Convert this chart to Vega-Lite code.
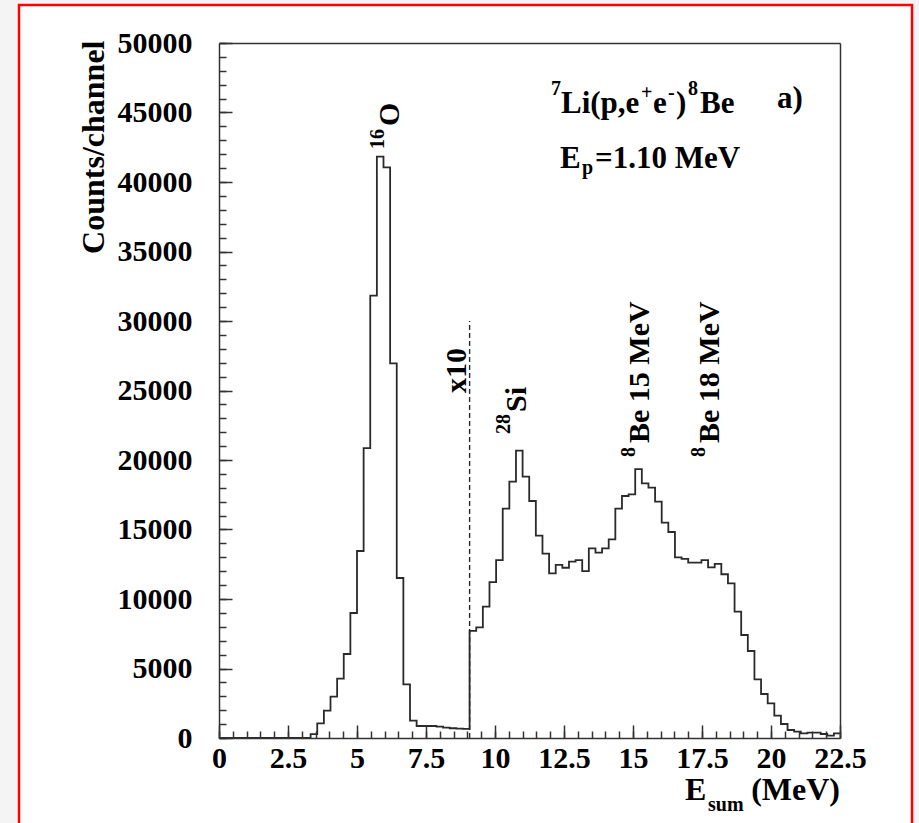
{
  "$schema": "https://vega.github.io/schema/vega-lite/v6.json",
  "width": 621,
  "height": 695,
  "autosize": {"type": "none"},
  "padding": {"left": 219, "top": 43, "right": 79, "bottom": 85},
  "background": "#f4f4f4",
  "config": {"view": {"stroke": null}, "axis": {"grid": false}},
  "datasets": {
    "frame": [{"x": -7.246, "x2": 25.109, "y": 52733, "y2": -6619}],
    "marker": [{"x": 9.08, "y": 0, "y2": 30000}],
    "hist": [
      {"E": 0, "c": 0}, {"E": 0.2, "c": 0}, {"E": 0.44, "c": 0}, {"E": 0.68, "c": 0}, {"E": 0.92, "c": 0},
      {"E": 1.16, "c": 0}, {"E": 1.4, "c": 0}, {"E": 1.64, "c": 0}, {"E": 1.88, "c": 0}, {"E": 2.12, "c": 0},
      {"E": 2.36, "c": 0}, {"E": 2.6, "c": 0}, {"E": 2.84, "c": 0}, {"E": 3.08, "c": 0},
      {"E": 3.32, "c": 280}, {"E": 3.56, "c": 1055}, {"E": 3.8, "c": 1967}, {"E": 4.04, "c": 2973},
      {"E": 4.28, "c": 4268}, {"E": 4.52, "c": 6043}, {"E": 4.76, "c": 8993}, {"E": 5.0, "c": 13453},
      {"E": 5.24, "c": 20860}, {"E": 5.48, "c": 31820}, {"E": 5.72, "c": 41820}, {"E": 5.96, "c": 41050},
      {"E": 6.2, "c": 26950}, {"E": 6.44, "c": 11510}, {"E": 6.68, "c": 3860}, {"E": 6.92, "c": 1247},
      {"E": 7.16, "c": 863}, {"E": 7.4, "c": 863}, {"E": 7.64, "c": 863}, {"E": 7.88, "c": 815},
      {"E": 8.12, "c": 743}, {"E": 8.36, "c": 700}, {"E": 8.6, "c": 671}, {"E": 8.84, "c": 660},
      {"E": 9.08, "c": 7700}, {"E": 9.32, "c": 7960}, {"E": 9.56, "c": 9450}, {"E": 9.8, "c": 11220},
      {"E": 10.04, "c": 12800}, {"E": 10.28, "c": 16500}, {"E": 10.52, "c": 18440}, {"E": 10.76, "c": 20670},
      {"E": 11.0, "c": 18800}, {"E": 11.24, "c": 17050}, {"E": 11.48, "c": 14560}, {"E": 11.72, "c": 13260},
      {"E": 11.96, "c": 11850}, {"E": 12.2, "c": 12450}, {"E": 12.44, "c": 12250}, {"E": 12.68, "c": 12690},
      {"E": 12.92, "c": 12800}, {"E": 13.16, "c": 12010}, {"E": 13.4, "c": 13640}, {"E": 13.64, "c": 13330},
      {"E": 13.88, "c": 13640}, {"E": 14.12, "c": 14290}, {"E": 14.36, "c": 16500}, {"E": 14.6, "c": 17410},
      {"E": 14.84, "c": 17530}, {"E": 15.08, "c": 19350}, {"E": 15.32, "c": 18320}, {"E": 15.56, "c": 18010},
      {"E": 15.8, "c": 17000}, {"E": 16.04, "c": 15490}, {"E": 16.28, "c": 14820}, {"E": 16.52, "c": 13000},
      {"E": 16.76, "c": 12880}, {"E": 17.0, "c": 12610}, {"E": 17.24, "c": 12610}, {"E": 17.48, "c": 12800},
      {"E": 17.72, "c": 12280}, {"E": 17.96, "c": 12520}, {"E": 18.2, "c": 11780}, {"E": 18.44, "c": 11130},
      {"E": 18.68, "c": 9090}, {"E": 18.92, "c": 7410}, {"E": 19.16, "c": 6260}, {"E": 19.4, "c": 4220},
      {"E": 19.64, "c": 3165}, {"E": 19.88, "c": 2494}, {"E": 20.12, "c": 1607}, {"E": 20.36, "c": 1007},
      {"E": 20.6, "c": 575}, {"E": 20.84, "c": 456}, {"E": 21.08, "c": 336}, {"E": 21.32, "c": 384},
      {"E": 21.56, "c": 384}, {"E": 21.8, "c": 288}, {"E": 22.04, "c": 168}, {"E": 22.28, "c": 336},
      {"E": 22.52, "c": 336}
    ],
    "labels": [
      {"x": 12.391, "y": 44964, "t": "Li(p,e", "g": "hmain"},
      {"x": 15.725, "y": 44964, "t": "e", "g": "hmain"},
      {"x": 16.558, "y": 44964, "t": ")", "g": "hmain"},
      {"x": 17.428, "y": 44964, "t": "Be", "g": "hmain"},
      {"x": 20.217, "y": 45324, "t": "a)", "g": "hmain"},
      {"x": 12.355, "y": 41007, "t": "E", "g": "hmain"},
      {"x": 13.623, "y": 41007, "t": "=1.10 MeV", "g": "hmain"},
      {"x": 12.029, "y": 46259, "t": "7", "g": "hsup"},
      {"x": 15.29, "y": 45971, "t": "+", "g": "hsup"},
      {"x": 16.268, "y": 45971, "t": "-", "g": "hsup"},
      {"x": 16.993, "y": 46259, "t": "8", "g": "hsup"},
      {"x": 13.152, "y": 40575, "t": "p", "g": "hsup"},
      {"x": 6.522, "y": 44029, "t": "O", "g": "rmain"},
      {"x": 8.949, "y": 24820, "t": "x10", "g": "rmain"},
      {"x": 11.123, "y": 23453, "t": "Si", "g": "rmain"},
      {"x": 15.58, "y": 21223, "t": "Be 15 MeV", "g": "rmain"},
      {"x": 18.116, "y": 21223, "t": "Be 18 MeV", "g": "rmain"},
      {"x": 5.978, "y": 42374, "t": "16", "g": "rsup"},
      {"x": 10.543, "y": 21870, "t": "28", "g": "rsup"},
      {"x": 15.072, "y": 20216, "t": "8", "g": "rsup"},
      {"x": 17.609, "y": 20216, "t": "8", "g": "rsup"},
      {"x": 16.884, "y": -4460, "t": "E", "g": "tmain"},
      {"x": 17.717, "y": -5252, "t": "sum", "g": "tsub"},
      {"x": 22.5, "y": -4460, "t": "(MeV)", "g": "tright"}
    ]
  },
  "resolve": {"axis": {"x": "independent", "y": "independent"}},
  "layer": [
    {
      "data": {"name": "frame"},
      "mark": {"type": "rect", "fill": "white", "stroke": "#ff0000", "strokeWidth": 2.5},
      "encoding": {
        "x": {"field": "x", "type": "quantitative", "scale": {"domain": [0, 22.5], "nice": false, "zero": false},
              "axis": {"orient": "top", "zindex": 2, "labels": false, "ticks": false, "domain": true, "domainColor": "#333333", "domainWidth": 1.5, "title": null}},
        "x2": {"field": "x2"},
        "y": {"field": "y", "type": "quantitative", "scale": {"domain": [0, 50000], "nice": false, "zero": false},
              "axis": {"orient": "right", "zindex": 2, "labels": false, "ticks": false, "domain": true, "domainColor": "#333333", "domainWidth": 1.5, "title": null}},
        "y2": {"field": "y2"}
      }
    },
    {
      "data": {"name": "hist"},
      "mark": {"type": "line", "interpolate": "step-after", "color": "#2a2a2a", "strokeWidth": 1.8, "clip": true},
      "encoding": {
        "x": {"field": "E", "type": "quantitative", "scale": {"domain": [0, 22.5], "nice": false, "zero": false},
              "axis": {"orient": "bottom", "zindex": 2, "values": [0, 2.5, 5, 7.5, 10, 12.5, 15, 17.5, 20, 22.5], "labelExpr": "'' + datum.value",
                       "ticks": false, "domain": true, "domainColor": "#333333", "domainWidth": 1.5, "labelFlush": false, "labelOverlap": false,
                       "labelFont": "Liberation Serif", "labelFontSize": 30, "labelFontWeight": "bold", "labelColor": "black", "labelPadding": 5, "title": null}},
        "y": {"field": "c", "type": "quantitative", "scale": {"domain": [0, 50000], "nice": false, "zero": false},
              "axis": {"orient": "left", "zindex": 2, "values": [0, 5000, 10000, 15000, 20000, 25000, 30000, 35000, 40000, 45000, 50000], "format": "d",
                       "ticks": false, "domain": true, "domainColor": "#333333", "domainWidth": 1.5, "labelOverlap": false,
                       "labelFont": "Liberation Serif", "labelFontSize": 30, "labelFontWeight": "bold", "labelColor": "black", "labelPadding": 27,
                       "title": "Counts/channel", "titleFont": "Liberation Serif", "titleFontSize": 32, "titleFontWeight": "bold", "titleColor": "black",
                       "titleAngle": 270, "titleX": -116, "titleY": -3, "titleAlign": "right", "titleBaseline": "alphabetic"}}
      }
    },
    {
      "data": {"name": "marker"},
      "mark": {"type": "rule", "color": "#2a2a2a", "strokeWidth": 1.4, "strokeDash": [5, 3]},
      "encoding": {
        "x": {"field": "x", "type": "quantitative", "scale": {"domain": [0, 22.5], "nice": false, "zero": false},
              "axis": {"orient": "bottom", "zindex": 2, "values": [0, 2.5, 5, 7.5, 10, 12.5, 15, 17.5, 20, 22.5], "labels": false, "domain": false,
                       "ticks": true, "tickSize": -13, "tickWidth": 1.5, "tickColor": "#333333", "title": null}},
        "y": {"field": "y", "type": "quantitative", "scale": {"domain": [0, 50000], "nice": false, "zero": false},
              "axis": {"orient": "left", "zindex": 2, "values": [0, 5000, 10000, 15000, 20000, 25000, 30000, 35000, 40000, 45000, 50000], "labels": false, "domain": false,
                       "ticks": true, "tickSize": -13, "tickWidth": 1.5, "tickColor": "#333333", "title": null}},
        "y2": {"field": "y2"}
      }
    },
    {
      "data": {"name": "labels"},
      "transform": [{"filter": "datum.g == 'hmain'"}],
      "mark": {"type": "text", "font": "Liberation Serif", "fontWeight": "bold", "fontSize": 31, "align": "left", "baseline": "alphabetic", "color": "black"},
      "encoding": {
        "x": {"field": "x", "type": "quantitative", "scale": {"domain": [0, 22.5], "nice": false, "zero": false},
              "axis": {"orient": "bottom", "zindex": 2, "values": [0, 0.5, 1, 1.5, 2, 2.5, 3, 3.5, 4, 4.5, 5, 5.5, 6, 6.5, 7, 7.5, 8, 8.5, 9, 9.5, 10, 10.5, 11, 11.5, 12, 12.5, 13, 13.5, 14, 14.5, 15, 15.5, 16, 16.5, 17, 17.5, 18, 18.5, 19, 19.5, 20, 20.5, 21, 21.5, 22, 22.5],
                       "labels": false, "domain": false, "ticks": true, "tickSize": -7, "tickWidth": 1.5, "tickColor": "#333333", "title": null}},
        "y": {"field": "y", "type": "quantitative", "scale": {"domain": [0, 50000], "nice": false, "zero": false},
              "axis": {"orient": "left", "zindex": 2, "values": [0, 1000, 2000, 3000, 4000, 5000, 6000, 7000, 8000, 9000, 10000, 11000, 12000, 13000, 14000, 15000, 16000, 17000, 18000, 19000, 20000, 21000, 22000, 23000, 24000, 25000, 26000, 27000, 28000, 29000, 30000, 31000, 32000, 33000, 34000, 35000, 36000, 37000, 38000, 39000, 40000, 41000, 42000, 43000, 44000, 45000, 46000, 47000, 48000, 49000, 50000],
                       "labels": false, "domain": false, "ticks": true, "tickSize": -7, "tickWidth": 1.5, "tickColor": "#333333", "title": null}},
        "text": {"field": "t"}
      }
    },
    {
      "data": {"name": "labels"},
      "transform": [{"filter": "datum.g == 'hsup'"}],
      "mark": {"type": "text", "font": "Liberation Serif", "fontWeight": "bold", "fontSize": 20, "align": "left", "baseline": "alphabetic", "color": "black"},
      "encoding": {
        "x": {"field": "x", "type": "quantitative", "scale": {"domain": [0, 22.5], "nice": false, "zero": false}, "axis": null},
        "y": {"field": "y", "type": "quantitative", "scale": {"domain": [0, 50000], "nice": false, "zero": false}, "axis": null},
        "text": {"field": "t"}
      }
    },
    {
      "data": {"name": "labels"},
      "transform": [{"filter": "datum.g == 'rmain'"}],
      "mark": {"type": "text", "font": "Liberation Serif", "fontWeight": "bold", "fontSize": 30, "angle": 270, "align": "left", "baseline": "alphabetic", "color": "black"},
      "encoding": {
        "x": {"field": "x", "type": "quantitative", "scale": {"domain": [0, 22.5], "nice": false, "zero": false}, "axis": null},
        "y": {"field": "y", "type": "quantitative", "scale": {"domain": [0, 50000], "nice": false, "zero": false}, "axis": null},
        "text": {"field": "t"}
      }
    },
    {
      "data": {"name": "labels"},
      "transform": [{"filter": "datum.g == 'rsup'"}],
      "mark": {"type": "text", "font": "Liberation Serif", "fontWeight": "bold", "fontSize": 20, "angle": 270, "align": "left", "baseline": "alphabetic", "color": "black"},
      "encoding": {
        "x": {"field": "x", "type": "quantitative", "scale": {"domain": [0, 22.5], "nice": false, "zero": false}, "axis": null},
        "y": {"field": "y", "type": "quantitative", "scale": {"domain": [0, 50000], "nice": false, "zero": false}, "axis": null},
        "text": {"field": "t"}
      }
    },
    {
      "data": {"name": "labels"},
      "transform": [{"filter": "datum.g == 'tmain'"}],
      "mark": {"type": "text", "font": "Liberation Serif", "fontWeight": "bold", "fontSize": 32, "align": "left", "baseline": "alphabetic", "color": "black"},
      "encoding": {
        "x": {"field": "x", "type": "quantitative", "scale": {"domain": [0, 22.5], "nice": false, "zero": false}, "axis": null},
        "y": {"field": "y", "type": "quantitative", "scale": {"domain": [0, 50000], "nice": false, "zero": false}, "axis": null},
        "text": {"field": "t"}
      }
    },
    {
      "data": {"name": "labels"},
      "transform": [{"filter": "datum.g == 'tsub'"}],
      "mark": {"type": "text", "font": "Liberation Serif", "fontWeight": "bold", "fontSize": 20, "align": "left", "baseline": "alphabetic", "color": "black"},
      "encoding": {
        "x": {"field": "x", "type": "quantitative", "scale": {"domain": [0, 22.5], "nice": false, "zero": false}, "axis": null},
        "y": {"field": "y", "type": "quantitative", "scale": {"domain": [0, 50000], "nice": false, "zero": false}, "axis": null},
        "text": {"field": "t"}
      }
    },
    {
      "data": {"name": "labels"},
      "transform": [{"filter": "datum.g == 'tright'"}],
      "mark": {"type": "text", "font": "Liberation Serif", "fontWeight": "bold", "fontSize": 32, "align": "right", "baseline": "alphabetic", "color": "black"},
      "encoding": {
        "x": {"field": "x", "type": "quantitative", "scale": {"domain": [0, 22.5], "nice": false, "zero": false}, "axis": null},
        "y": {"field": "y", "type": "quantitative", "scale": {"domain": [0, 50000], "nice": false, "zero": false}, "axis": null},
        "text": {"field": "t"}
      }
    }
  ]
}
